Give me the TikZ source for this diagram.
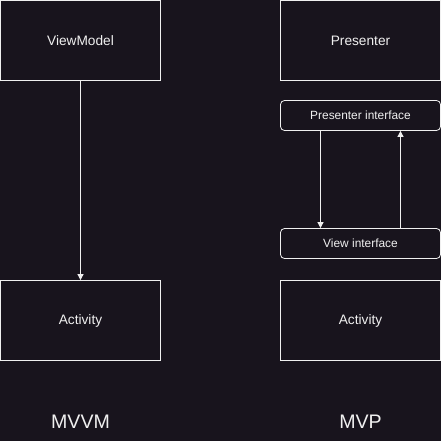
\documentclass[tikz,border=0pt]{standalone}
\usepackage{fontspec}
\setmainfont{Liberation Sans}
\usetikzlibrary{arrows.meta}
\definecolor{bg}{HTML}{18141D}
\definecolor{fg}{HTML}{F0F0F0}
\begin{document}
\begin{tikzpicture}[x=1pt,y=-1pt,
  box/.style={draw=fg, line width=0.8pt, fill=bg, text=fg, minimum width=160pt, minimum height=80pt, inner sep=0pt, font=\fontsize{13.7}{15}\selectfont},
  ibox/.style={draw=fg, line width=0.8pt, fill=bg, text=fg, rounded corners=4pt, minimum width=160pt, minimum height=30pt, inner sep=0pt, font=\fontsize{11.9}{13}\selectfont},
  lbl/.style={text=fg, font=\fontsize{19.6}{22}\selectfont, inner sep=0pt},
  conn/.style={draw=fg, line width=0.8pt, -{Triangle[width=6pt,length=6pt]}}]
\fill[bg] (0,0) rectangle (441,441);
\useasboundingbox (0,0) rectangle (441,441);
\node[box] (vm) at (80.5,40.5) {ViewModel};
\node[box] (act1) at (80.5,320.5) {Activity};
\node[box] (pres) at (360.5,40.5) {Presenter};
\node[ibox] (pi) at (360.5,115.5) {Presenter interface};
\node[ibox] (vi) at (360.5,243.5) {View interface};
\node[box] (act2) at (360.5,320.5) {Activity};
\node[lbl] (mvvm) at (80.5,421.5) {MVVM};
\node[lbl] (mvp) at (360.5,421.5) {MVP};
\draw[conn] (vm.south) -- (act1.north);
\draw[conn] ([xshift=-40pt]pi.south) -- ([xshift=-40pt]vi.north);
\draw[conn] ([xshift=40pt]vi.north) -- ([xshift=40pt]pi.south);
\end{tikzpicture}
\end{document}
